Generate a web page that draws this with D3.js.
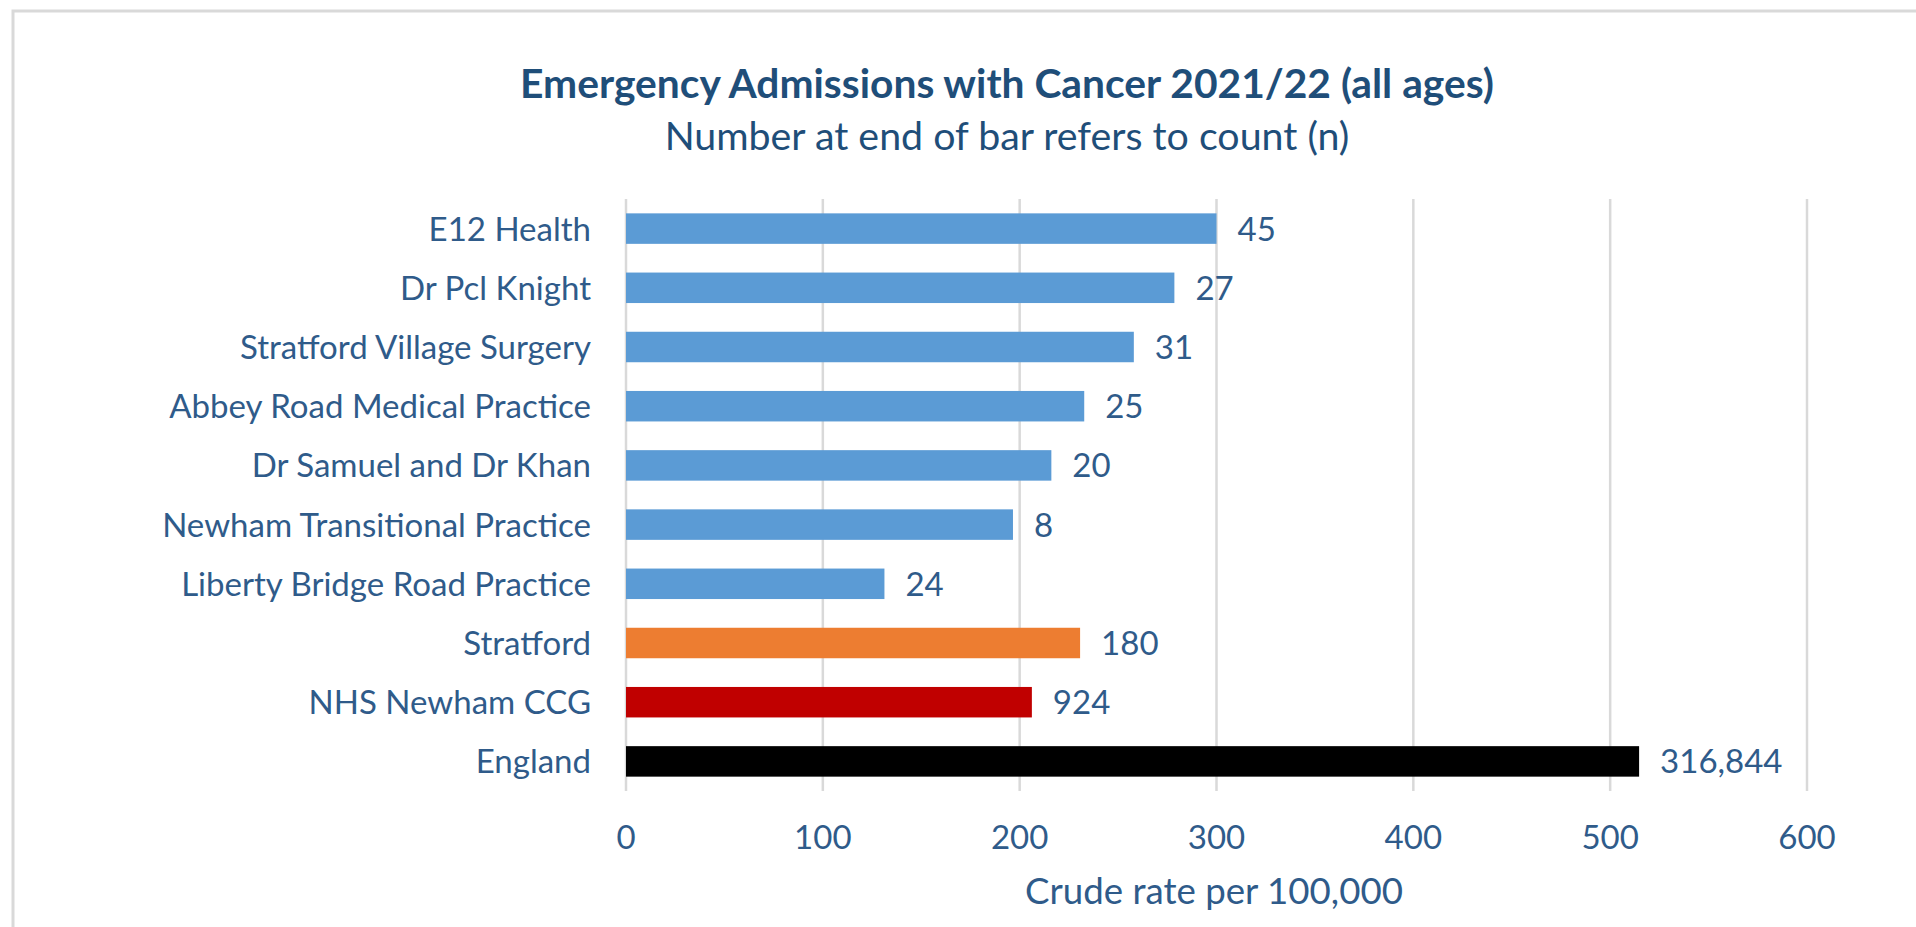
<!DOCTYPE html>
<html>
<head>
<meta charset="utf-8">
<script src="https://cdn.jsdelivr.net/npm/d3@7"></script>
<style>
  html, body { margin: 0; padding: 0; background: #fff; }
  svg { display: block; }
  text { font-family: Lato, "Open Sans", sans-serif; }
</style>
</head>
<body>
<svg id="chart" width="1916" height="927"></svg>
<script>
// data
var practices = ["E12 Health", "Dr Pcl Knight", "Stratford Village Surgery", "Abbey Road Medical Practice",
                 "Dr Samuel and Dr Khan", "Newham Transitional Practice", "Liberty Bridge Road Practice",
                 "Stratford", "NHS Newham CCG", "England"];
var crudeRate = [300, 278.6, 258, 232.8, 216.1, 196.6, 131.3, 230.7, 206.2, 514.7];
var counts = ["45", "27", "31", "25", "20", "8", "24", "180", "924", "316,844"];
var barColors = ["#5b9bd5", "#5b9bd5", "#5b9bd5", "#5b9bd5", "#5b9bd5", "#5b9bd5", "#5b9bd5",
                 "#ed7d31", "#c00000", "#000000"];
var xTicks = [0, 100, 200, 300, 400, 500, 600];

var titleText = "Emergency Admissions with Cancer 2021/22 (all ages)";
var subTitleText = "Number at end of bar refers to count (n)";
var xAxisTitle = "Crude rate per 100,000";

var textColor = "#2f5b8a",
    titleColor = "#1f4e79",
    gridColor = "#d9d9d9";

var svg = d3.select("#chart");

// outer chart frame (only top/left are inside the window)
svg.append("rect")
  .attr("x", 13).attr("y", 11)
  .attr("width", 2000).attr("height", 1000)
  .attr("fill", "none")
  .attr("stroke", gridColor)
  .attr("stroke-width", 3);

// work out a font size for Lato that matches the Calibri widths of the original
function fitSize(str, weight, target) {
  var t = svg.append("text").attr("font-size", 40).attr("font-weight", weight).text(str);
  var w = t.node().getComputedTextLength();
  t.remove();
  return 40 * target / w;
}
var labelSize = fitSize("Abbey Road Medical Practice", "normal", 422);

var x = d3.scaleLinear().domain([0, 600]).range([626, 1807]);
var y = d3.scaleBand().domain(practices).range([199, 791]).paddingInner(0.485).paddingOuter(0.2425);

// gridlines
svg.append("g").selectAll("line")
  .data(xTicks)
  .join("line")
  .attr("x1", function(d) { return x(d); })
  .attr("x2", function(d) { return x(d); })
  .attr("y1", 199).attr("y2", 791)
  .attr("stroke", gridColor)
  .attr("stroke-width", 2.5);

// bars
svg.append("g").selectAll("rect")
  .data(practices)
  .join("rect")
  .attr("x", x(0))
  .attr("y", function(d) { return y(d); })
  .attr("width", function(d, i) { return x(crudeRate[i]) - x(0); })
  .attr("height", y.bandwidth())
  .attr("fill", function(d, i) { return barColors[i]; });

// category labels
svg.append("g").selectAll("text")
  .data(practices)
  .join("text")
  .attr("x", 591)
  .attr("y", function(d) { return y(d) + y.bandwidth() / 2 + 12; })
  .attr("text-anchor", "end")
  .attr("font-size", labelSize)
  .attr("fill", textColor)
  .text(function(d) { return d; });

// count labels at end of bars
svg.append("g").selectAll("text")
  .data(practices)
  .join("text")
  .attr("x", function(d, i) { return x(crudeRate[i]) + 21; })
  .attr("y", function(d) { return y(d) + y.bandwidth() / 2 + 12; })
  .attr("font-size", labelSize)
  .attr("fill", textColor)
  .text(function(d, i) { return counts[i]; });

// x axis tick labels
svg.append("g").selectAll("text")
  .data(xTicks)
  .join("text")
  .attr("x", function(d) { return x(d); })
  .attr("y", 849)
  .attr("text-anchor", "middle")
  .attr("font-size", labelSize)
  .attr("fill", textColor)
  .text(function(d) { return d; });

// axis title
svg.append("text")
  .attr("x", 1214).attr("y", 904)
  .attr("text-anchor", "middle")
  .attr("font-size", fitSize(xAxisTitle, "normal", 378))
  .attr("fill", textColor)
  .text(xAxisTitle);

// titles
svg.append("text")
  .attr("x", 1007).attr("y", 98)
  .attr("text-anchor", "middle")
  .attr("font-size", fitSize(titleText, "bold", 974))
  .attr("font-weight", "bold")
  .attr("fill", titleColor)
  .text(titleText);

svg.append("text")
  .attr("x", 1007).attr("y", 150)
  .attr("text-anchor", "middle")
  .attr("font-size", fitSize(subTitleText, "normal", 685))
  .attr("fill", titleColor)
  .text(subTitleText);
</script>
</body>
</html>
